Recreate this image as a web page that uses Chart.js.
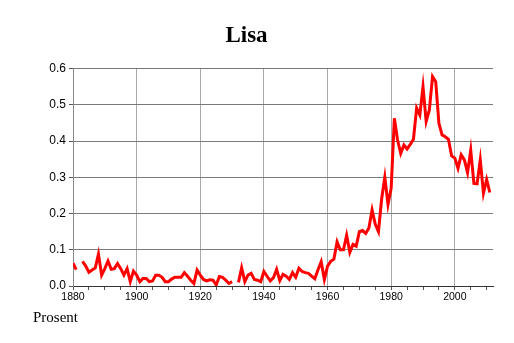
<!DOCTYPE html>
<html>
<head>
<meta charset="utf-8">
<script src="https://cdn.jsdelivr.net/npm/chart.js@4"></script>
<style>
  body { margin: 0; background: #fff; }
  #wrap { position: relative; width: 514px; height: 343px; }
  #unit { position: absolute; left: 33px; top: 310px; font: 15px "Liberation Serif", serif; line-height: 15px; color: #000; }
</style>
</head>
<body>
<div id="wrap">
  <canvas id="myChart" width="514" height="343"></canvas>
  <div id="unit">Prosent</div>
</div>
<script>
// Lisa, share of births (percent), one value per year starting 1880
const firstYear = 1880;
const values = [
  0.063, 0.045, null, 0.068, 0.055, 0.038, 0.044, 0.05, 0.088, 0.03,      // 1880s
  0.048, 0.069, 0.046, 0.048, 0.062, 0.048, 0.03, 0.048, 0.012, 0.041,    // 1890s
  0.03, 0.012, 0.021, 0.021, 0.012, 0.014, 0.03, 0.03, 0.024, 0.012,      // 1900s
  0.012, 0.019, 0.024, 0.024, 0.024, 0.037, 0.027, 0.016, 0.007, 0.044,   // 1910s
  0.03, 0.018, 0.014, 0.017, 0.016, 0.003, 0.026, 0.024, 0.016, 0.007,    // 1920s
  0.012, null, 0.01, 0.05, 0.012, 0.03, 0.035, 0.018, 0.016, 0.012,       // 1930s
  0.04, 0.027, 0.014, 0.023, 0.046, 0.015, 0.032, 0.027, 0.018, 0.037,    // 1940s
  0.024, 0.049, 0.04, 0.037, 0.035, 0.027, 0.02, 0.045, 0.067, 0.018,     // 1950s
  0.055, 0.068, 0.074, 0.122, 0.1, 0.1, 0.14, 0.093, 0.115, 0.11,         // 1960s
  0.15, 0.153, 0.145, 0.16, 0.21, 0.17, 0.15, 0.24, 0.3, 0.225,           // 1970s
  0.27, 0.463, 0.403, 0.366, 0.389, 0.378, 0.391, 0.405, 0.491, 0.472,    // 1980s
  0.55, 0.454, 0.486, 0.578, 0.564, 0.449, 0.417, 0.412, 0.405, 0.359,    // 1990s
  0.353, 0.325, 0.362, 0.348, 0.313, 0.375, 0.283, 0.282, 0.348, 0.256,   // 2000s
  0.294, 0.258                                                            // 2010s
];
const xMin = 1880, xMax = 2012;
const yTicks = [0, 0.1, 0.2, 0.3, 0.4, 0.5, 0.6];

const points = values.map((v, i) => ({ x: firstYear + i, y: v }));

new Chart("myChart", {
  type: 'line',
  data: {
    datasets: [{
      label: 'Lisa',
      data: points,
      borderColor: '#ff0000',
      borderWidth: 3,
      pointRadius: 0,
      tension: 0,
      spanGaps: false,
      fill: false
    }]
  },
  options: {
    responsive: false,
    animation: false,
    devicePixelRatio: 1,
    layout: { padding: { left: 0, right: 21, top: 0, bottom: 0 } },
    plugins: {
      legend: { display: false },
      tooltip: { enabled: false },
      title: {
        display: true,
        text: 'Lisa',
        color: '#000',
        font: { family: '"Liberation Serif", serif', size: 23, weight: 'bold' },
        padding: { top: 22, bottom: 19 }
      }
    },
    scales: {
      x: {
        type: 'linear',
        min: xMin,
        max: xMax,
        afterFit: s => { s.height = 57; },
        border: { color: '#333', width: 1 },
        grid: {
          color: c => (c.tick && c.tick.value % 20 === 0) ? '#a8a8a8' : 'rgba(0,0,0,0)',
          tickColor: '#555',
          tickLength: 4,
          drawTicks: true
        },
        ticks: {
          stepSize: 5,
          includeBounds: false,
          autoSkip: false,
          maxRotation: 0,
          padding: 1,
          color: '#000',
          font: { family: '"Liberation Sans", sans-serif', size: 10.5 },
          callback: v => (v % 20 === 0 ? String(v) : '')
        }
      },
      y: {
        min: 0,
        max: 0.6,
        afterFit: s => { s.width = 73; },
        afterBuildTicks: s => { s.ticks = yTicks.map(v => ({ value: v })); },
        border: { color: '#888', width: 1 },
        grid: {
          color: '#7a7a7a',
          tickColor: '#555',
          tickLength: 4
        },
        ticks: {
          padding: 3,
          color: '#000',
          font: { family: '"Liberation Sans", sans-serif', size: 12 },
          callback: v => v.toFixed(1)
        }
      }
    }
  }
});
</script>
</body>
</html>
